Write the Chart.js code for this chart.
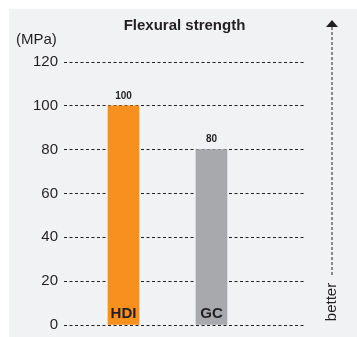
<!DOCTYPE html>
<html>
<head>
<meta charset="utf-8">
<script src="https://cdn.jsdelivr.net/npm/chart.js@4/dist/chart.umd.min.js"></script>
<style>
  html, body { margin: 0; padding: 0; background: #fff; }
  #wrap { width: 357px; height: 337px; }
</style>
</head>
<body>
<div id="wrap"><canvas id="myChart" width="357" height="337"></canvas></div>
<script>
// данные
const categories = ['HDI', 'GC'];
const strength = [100, 80];
const barColors = ['#f7901e', '#a7a9ac'];
const yTicks = [0, 20, 40, 60, 80, 100, 120];

const FONT = '"Liberation Sans", Arial, Helvetica, sans-serif';
const INK = '#231f20';

// фон, подписи и стрелка "better"
const decor = {
  id: 'decor',
  beforeDraw(chart) {
    const c = chart.ctx;
    c.save();
    c.fillStyle = '#f1f2f4';
    c.fillRect(9, 9, chart.width - 9, chart.height - 9);
    c.restore();
  },
  afterDatasetsDraw(chart) {
    const c = chart.ctx;
    const area = chart.chartArea;
    const meta = chart.getDatasetMeta(0);
    c.save();
    c.fillStyle = INK;
    c.textAlign = 'center';
    c.textBaseline = 'middle';
    meta.data.forEach((bar, i) => {
      c.font = 'bold 10px ' + FONT;
      c.fillText(String(strength[i]), bar.x, bar.y - 10);
      c.font = 'bold 15px ' + FONT;
      c.fillText(categories[i], bar.x, area.bottom - 11);
    });

    // единицы
    c.font = '15px ' + FONT;
    c.textAlign = 'left';
    c.fillText('(MPa)', 16, 40);

    // стрелка
    const ax = 332;
    c.strokeStyle = INK;
    c.lineWidth = 1;
    c.setLineDash([3, 2]);
    c.beginPath();
    c.moveTo(ax, 27);
    c.lineTo(ax, 275);
    c.stroke();
    c.setLineDash([]);
    c.beginPath();
    c.moveTo(ax, 20);
    c.lineTo(ax + 6, 27);
    c.lineTo(ax - 6, 27);
    c.closePath();
    c.fill();

    c.translate(ax, 302);
    c.rotate(-Math.PI / 2);
    c.textAlign = 'center';
    c.font = '15px ' + FONT;
    c.fillText('better', 0, 0);
    c.restore();
  }
};

const ctx = document.getElementById('myChart').getContext('2d');
const chart = new Chart(ctx, {
  type: 'bar',
  data: {
    datasets: [{
      data: strength.map((v, i) => ({ x: i, y: v })),
      backgroundColor: barColors,
      borderWidth: 0,
      barThickness: 31
    }]
  },
  options: {
    responsive: false,
    animation: false,
    events: [],
    layout: { padding: { left: 0, right: 52, top: 0, bottom: 12 } },
    plugins: {
      legend: { display: false },
      tooltip: { enabled: false },
      title: {
        display: true,
        text: 'Flexural strength',
        fullSize: false,
        color: INK,
        font: { family: FONT, size: 15, weight: 'bold' },
        padding: { top: 17, bottom: 27 }
      }
    },
    scales: {
      x: {
        type: 'linear',
        display: false,
        offset: false,
        bounds: 'data',
        grid: { offset: false },
        min: -0.676,
        max: 2.063
      },
      y: {
        min: 0,
        max: 120,
        afterBuildTicks: s => { s.ticks = yTicks.map(v => ({ value: v })); },
        afterFit: s => { s.width = 64; s.paddingTop = 0; s.paddingBottom = 0; },
        border: { display: false, dash: [3, 2.5] },
        grid: {
          color: INK,
          lineWidth: 1,
          drawTicks: false
        },
        ticks: {
          color: INK,
          padding: 6,
          font: { family: FONT, size: 15 }
        }
      }
    }
  },
  plugins: [decor]
});
</script>
</body>
</html>
